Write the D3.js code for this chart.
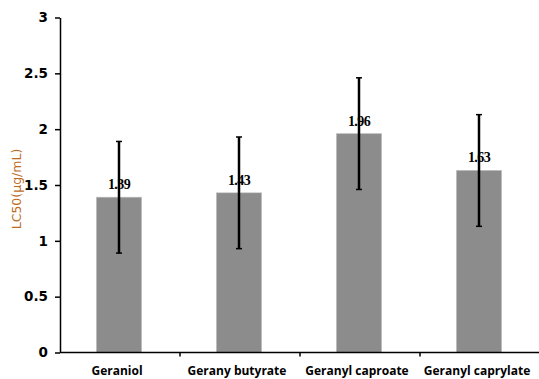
<!DOCTYPE html>
<html>
<head>
<meta charset="utf-8">
<script src="https://cdn.jsdelivr.net/npm/d3@7"></script>
<style>
  html, body { margin: 0; padding: 0; background: #fff; }
  svg { display: block; }
</style>
</head>
<body>
<svg id="chart" width="539" height="379"></svg>
<script>
// LC50 values per compound, with their error half-widths
const categories = ["Geraniol", "Gerany butyrate", "Geranyl caproate", "Geranyl caprylate"];
const lc50 = [1.39, 1.43, 1.96, 1.63];
const errors = [0.5, 0.5, 0.5, 0.5];
const yTicks = [0, 0.5, 1, 1.5, 2, 2.5, 3];
const yTickLabels = ["0", "0.5", "1", "1.5", "2", "2.5", "3"];

const rows = categories.map((c, i) => ({ name: c, value: lc50[i], err: errors[i] }));

const svg = d3.select("#chart");
const plotLeft = 60, plotRight = 540, plotTop = 17.5, plotBottom = 352.5;

const x = d3.scaleBand().domain(categories).range([plotLeft, plotRight]).paddingInner(0).paddingOuter(0);
const y = d3.scaleLinear().domain([0, 3]).range([plotBottom, plotTop]);
const barW = x.bandwidth() * 0.375;

// bars
svg.append("g").selectAll("rect").data(rows).join("rect")
  .attr("x", d => x(d.name) + x.bandwidth() / 2 - barW / 2 - 1)
  .attr("y", d => y(d.value))
  .attr("width", barW)
  .attr("height", d => y(0) - y(d.value))
  .attr("fill", "#8c8c8c")
  .attr("stroke", "#b4b4b4")
  .attr("stroke-width", 1)
  .attr("stroke-dasharray", "1,1");

// error bars
const eb = svg.append("g").attr("stroke", "#000");
rows.forEach(d => {
  const cx = x(d.name) + x.bandwidth() / 2 - 1;
  eb.append("line").attr("x1", cx).attr("x2", cx)
    .attr("y1", y(d.value + d.err)).attr("y2", y(d.value - d.err)).attr("stroke-width", 2.5);
  [d.value + d.err, d.value - d.err].forEach(v => {
    eb.append("line").attr("x1", cx - 3).attr("x2", cx + 3)
      .attr("y1", y(v)).attr("y2", y(v)).attr("stroke-width", 1.5);
  });
});

// value labels above bars
svg.append("g").selectAll("text").data(rows).join("text")
  .attr("x", d => x(d.name) + x.bandwidth() / 2 - 1)
  .attr("y", d => y(d.value) - 8)
  .attr("text-anchor", "middle")
  .attr("font-family", "Liberation Serif, Times New Roman, serif")
  .attr("font-weight", "bold")
  .attr("font-size", 14)
  .attr("fill", "#000")
  .attr("letter-spacing", "-0.6")
  .text(d => d.value.toFixed(2));

// y axis
const yAxis = d3.axisLeft(y).tickValues(yTicks)
  .tickFormat((d, i) => yTickLabels[i]).tickSize(5).tickSizeOuter(0);
const gy = svg.append("g").attr("transform", `translate(${plotLeft},0)`).call(yAxis);
gy.select(".domain").attr("stroke", "#000").attr("stroke-width", 1.5);
gy.selectAll(".tick line").attr("stroke", "#000").attr("stroke-width", 1.5);
gy.selectAll(".tick text")
  .attr("x", -12)
  .attr("font-family", "DejaVu Sans, Verdana, sans-serif")
  .attr("font-weight", "bold")
  .attr("font-size", 13.5)
  .attr("fill", "#000");

// x axis baseline with category boundary ticks
const gx = svg.append("g");
gx.append("line").attr("x1", plotLeft).attr("x2", plotRight)
  .attr("y1", y(0)).attr("y2", y(0)).attr("stroke", "#000").attr("stroke-width", 1.5);
gx.selectAll("line.tick").data(categories.slice(1)).join("line").attr("class", "tick")
  .attr("x1", d => x(d)).attr("x2", d => x(d))
  .attr("y1", y(0)).attr("y2", y(0) + 4)
  .attr("stroke", "#000").attr("stroke-width", 1.5);
gx.selectAll("text").data(categories).join("text")
  .attr("x", d => x(d) + x.bandwidth() / 2 - 3)
  .attr("y", 374.5)
  .attr("text-anchor", "middle")
  .attr("font-family", "Open Sans, Liberation Sans, sans-serif")
  .attr("font-weight", "bold")
  .attr("font-size", 12)
  .attr("fill", "#000")
  .text(d => d);

// y axis title
svg.append("text")
  .attr("transform", `translate(21,189) rotate(-90)`)
  .attr("text-anchor", "middle")
  .attr("font-family", "DejaVu Sans, Verdana, sans-serif")
  .attr("font-size", 12.5)
  .attr("fill", "#c06a1e")
  .text("LC50(μg/mL)");
</script>
</body>
</html>
